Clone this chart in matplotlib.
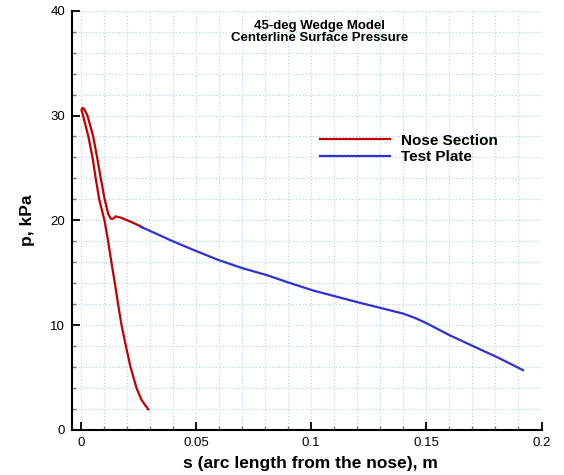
import matplotlib
matplotlib.use("Agg")
import matplotlib.pyplot as plt
from matplotlib.ticker import MultipleLocator, FuncFormatter

plt.rcParams['font.family'] = ['Liberation Sans', 'DejaVu Sans']

# Nose section: lower branch up to the stagnation peak, then back down the other branch
nose_s = [0.0293, 0.0264, 0.0242, 0.0216, 0.0196, 0.0177, 0.0162, 0.0148, 0.0133,
          0.0119, 0.0103, 0.0080, 0.0065, 0.0051, 0.0033, 0.0010, 0.0003,
          0.0008, 0.0014, 0.0029, 0.0054, 0.0071, 0.0087, 0.0104, 0.0119,
          0.0130, 0.0140, 0.0152, 0.0175, 0.0213, 0.0254, 0.0268]
nose_p = [1.97, 2.86, 4.0, 6.0, 8.0, 10.0, 12.0, 14.0, 16.0,
          18.0, 20.0, 22.0, 24.0, 26.0, 28.0, 30.0, 30.55,
          30.72, 30.65, 30.0, 28.0, 26.0, 24.0, 22.0, 20.63,
          20.16, 20.15, 20.38, 20.25, 19.9, 19.5, 19.32]

# Test plate
plate_s = [0.026, 0.040, 0.050, 0.060, 0.070, 0.081, 0.090, 0.101, 0.120, 0.130,
           0.140, 0.145, 0.150, 0.160, 0.171, 0.181, 0.192]
plate_p = [19.4, 18.0, 17.08, 16.2, 15.45, 14.76, 14.08, 13.3, 12.2, 11.65,
           11.1, 10.7, 10.2, 9.05, 7.93, 6.92, 5.71]

fig = plt.figure(figsize=(5.64, 4.75), dpi=100)
ax = fig.add_axes([72/564, 45/475, (541.5-72)/564, (430-10.7)/475])

ax.plot(nose_s, nose_p, color='#c00000', lw=1.6, label='Nose Section')
ax.plot(plate_s, plate_p, color='#3030d8', lw=1.6, label='Test Plate')

ax.set_xlim(-0.0038, 0.2)
ax.set_ylim(0, 40)
ax.xaxis.set_major_locator(MultipleLocator(0.05))
ax.xaxis.set_minor_locator(MultipleLocator(0.01))
ax.yaxis.set_major_locator(MultipleLocator(10))
ax.yaxis.set_minor_locator(MultipleLocator(2))
ax.xaxis.set_major_formatter(FuncFormatter(lambda v, p: '%g' % round(v, 3)))

ax.grid(which='both', color='#a8d4e2', ls=(0, (1, 2)), lw=0.8)
ax.set_axisbelow(True)

ax.spines['top'].set_visible(False)
ax.spines['right'].set_visible(False)
ax.spines['left'].set_linewidth(1.5)
ax.spines['bottom'].set_linewidth(1.5)
ax.tick_params(which='major', direction='in', length=6, width=1.3, labelsize=9.5, pad=5)
ax.tick_params(which='minor', direction='in', length=3, width=1.0, color='#777777')

ax.set_xlabel('s (arc length from the nose), m', fontsize=12.5, fontweight='bold', labelpad=5)
ax.xaxis.set_label_coords(0.508, -0.061)
ax.set_ylabel('p, kPa', fontsize=12.5, fontweight='bold', labelpad=11)

ax.text(0.1035, 38.0, '45-deg Wedge Model\nCenterline Surface Pressure', ha='center', va='center',
        fontsize=9.5, fontweight='bold', linespacing=1.0)

leg = ax.legend(loc='upper left', bbox_to_anchor=(0.528, 0.707), frameon=False,
                prop={'weight': 'bold', 'size': 11}, handlelength=4.58,
                handletextpad=0.72, labelspacing=0.16, borderaxespad=0, borderpad=0)

fig.savefig('out.png', dpi=100)
